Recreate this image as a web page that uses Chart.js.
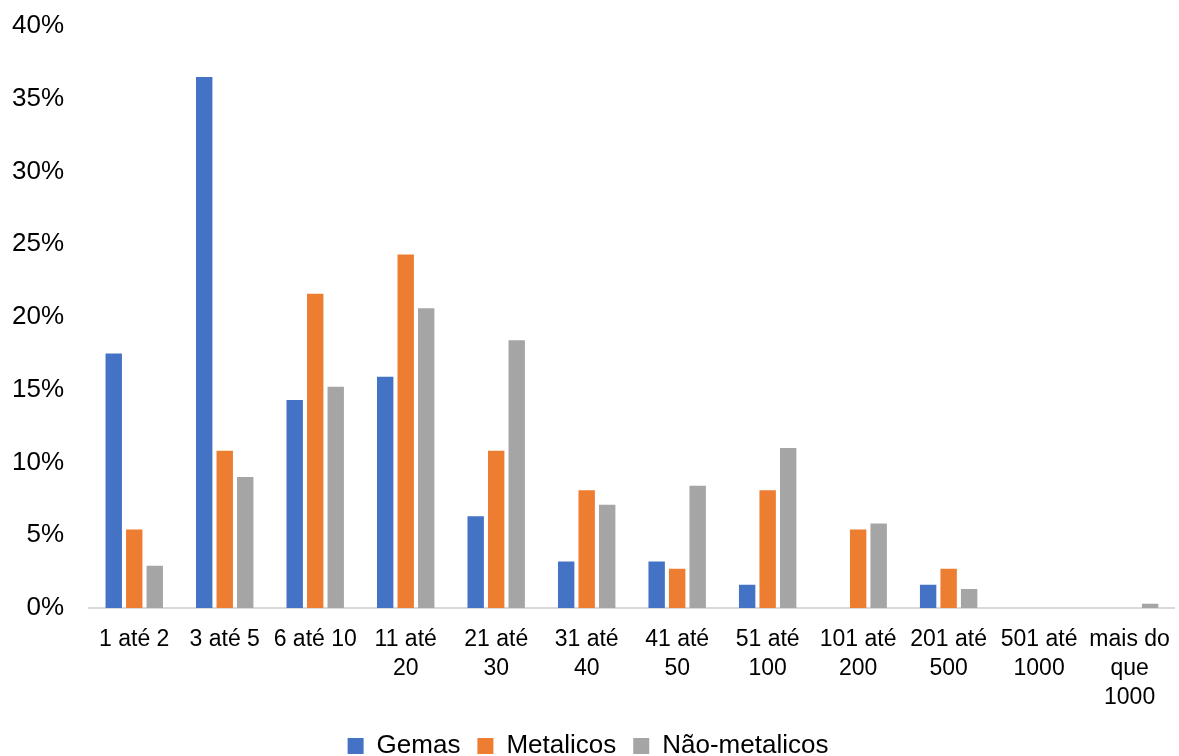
<!DOCTYPE html>
<html>
<head>
<meta charset="utf-8">
<script src="https://cdn.jsdelivr.net/npm/chart.js@4.4.1/dist/chart.umd.min.js"></script>
<style>
html,body{margin:0;padding:0;background:#fff;}
#wrap{width:1179px;height:756px;position:relative;}
</style>
</head>
<body>
<div id="wrap"><canvas id="c" width="1179" height="756"></canvas></div>
<script>
const categories = [
  ['1 até 2'], ['3 até 5'], ['6 até 10'], ['11 até','20'], ['21 até','30'],
  ['31 até','40'], ['41 até','50'], ['51 até','100'], ['101 até','200'],
  ['201 até','500'], ['501 até','1000'], ['mais do','que','1000']
];
const seriesNames = ['Gemas', 'Metalicos', 'Não-metalicos'];
const gemas = [17.5, 36.5, 14.3, 15.9, 6.3, 3.2, 3.2, 1.6, 0, 1.6, 0, 0];
const metalicos = [5.4, 10.8, 21.6, 24.3, 10.8, 8.1, 2.7, 8.1, 5.4, 2.7, 0, 0];
const naoMetalicos = [2.9, 9.0, 15.2, 20.6, 18.4, 7.1, 8.4, 11.0, 5.8, 1.3, 0, 0.3];
const yTicks = [0, 5, 10, 15, 20, 25, 30, 35, 40];

const colors = ['#4472C4', '#ED7D31', '#A5A5A5'];
const seriesData = [gemas, metalicos, naoMetalicos];
const FONT = 'Liberation Sans, Arial, sans-serif';

new Chart(document.getElementById('c'), {
  type: 'bar',
  data: {
    labels: categories,
    datasets: seriesNames.map((n, i) => ({
      label: n,
      data: seriesData[i],
      backgroundColor: colors[i],
      borderWidth: 0,
      barPercentage: 0.8,
      categoryPercentage: 0.68
    }))
  },
  options: {
    responsive: false,
    animation: false,
    devicePixelRatio: 1,
    layout: { padding: { top: 0, left: 0, right: 3, bottom: -13 } },
    plugins: {
      tooltip: { enabled: false },
      legend: {
        position: 'bottom',
        labels: {
          color: '#000',
          font: { family: FONT, size: 26, lineHeight: 1.0 },
          boxWidth: 16, boxHeight: 16, padding: 17
        }
      }
    },
    scales: {
      x: {
        grid: { display: false },
        border: { display: true, color: '#D9D9D9', width: 2 },
        afterFit: (ax) => { ax.height = 108; },
        ticks: {
          color: '#000',
          autoSkip: false, maxRotation: 0, minRotation: 0,
          padding: 9,
          font: { family: FONT, size: 23, lineHeight: 1.26 }
        }
      },
      y: {
        min: 0, max: 40,
        afterBuildTicks: (ax) => { ax.ticks = yTicks.map(v => ({ value: v })); },
        afterFit: (ax) => { ax.width = 89; ax.paddingTop = 26; },
        grid: { display: false },
        border: { display: false },
        ticks: {
          color: '#000',
          padding: 17,
          font: { family: FONT, size: 26 },
          callback: (v) => v + '%'
        }
      }
    }
  }
});
</script>
</body>
</html>
